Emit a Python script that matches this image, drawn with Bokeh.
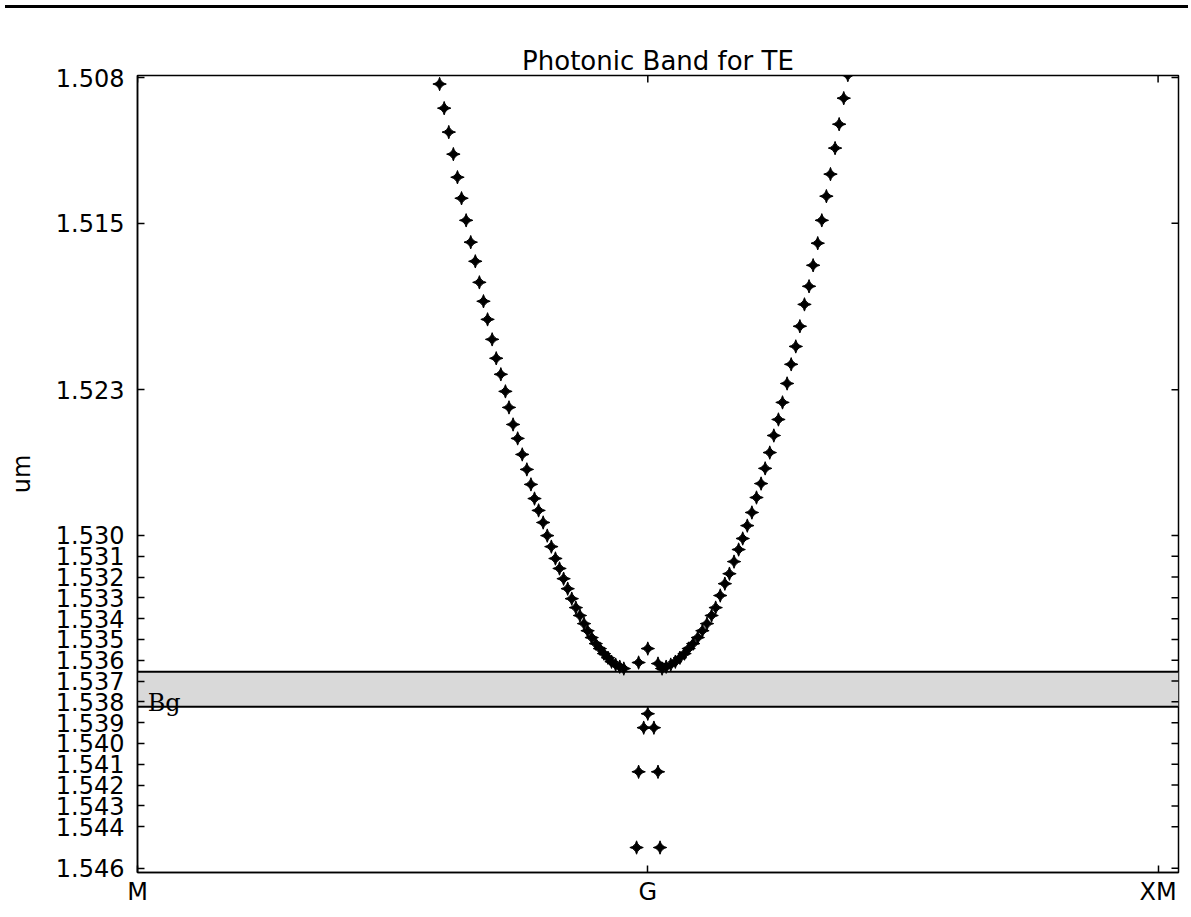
import numpy as np
from bokeh.plotting import figure
from bokeh.models import Range1d, FixedTicker, Span, BoxAnnotation, Label, Div, LinearAxis
from bokeh.layouts import column
from bokeh.embed import file_html
from bokeh.resources import INLINE

# ---- data ----
k_left = [0.592, 0.601, 0.610, 0.619, 0.627, 0.635, 0.644, 0.653, 0.662, 0.670,
          0.678, 0.686, 0.695, 0.703, 0.712, 0.721, 0.728, 0.736, 0.745, 0.754,
          0.763, 0.771, 0.778, 0.786, 0.795, 0.803, 0.811, 0.819, 0.827, 0.835,
          0.843, 0.851, 0.859, 0.867, 0.875, 0.882, 0.890, 0.898, 0.906, 0.914,
          0.922, 0.929, 0.937, 0.945, 0.953]
wl_left = [1.50831, 1.50947, 1.51062, 1.51168, 1.51279, 1.51380, 1.51486, 1.51591, 1.51683, 1.51784,
           1.51875, 1.51962, 1.52058, 1.52149, 1.52226, 1.52308, 1.52385, 1.52467, 1.52534, 1.52611,
           1.52683, 1.52755, 1.52823, 1.52880, 1.52938, 1.53001, 1.53054, 1.53111, 1.53159, 1.53208,
           1.53256, 1.53304, 1.53347, 1.53385, 1.53424, 1.53458, 1.53491, 1.53520, 1.53544, 1.53568,
           1.53588, 1.53607, 1.53621, 1.53631, 1.53640]

k_right = [1.392, 1.384, 1.375, 1.367, 1.358, 1.350, 1.341, 1.333, 1.324, 1.316,
           1.307, 1.298, 1.290, 1.281, 1.273, 1.264, 1.256, 1.247, 1.239, 1.230,
           1.222, 1.213, 1.204, 1.195, 1.186, 1.178, 1.169, 1.160, 1.151, 1.142,
           1.133, 1.125, 1.116, 1.107, 1.098, 1.089, 1.080, 1.072, 1.063, 1.054,
           1.045, 1.036, 1.028]
wl_right = [1.50788, 1.50899, 1.51024, 1.51139, 1.51264, 1.51370, 1.51486, 1.51596, 1.51702, 1.51803,
            1.51890, 1.51995, 1.52092, 1.52178, 1.52270, 1.52361, 1.52443, 1.52520, 1.52602, 1.52678,
            1.52751, 1.52818, 1.52890, 1.52953, 1.53015, 1.53068, 1.53126, 1.53184, 1.53232, 1.53289,
            1.53347, 1.53385, 1.53424, 1.53458, 1.53491, 1.53520, 1.53544, 1.53568, 1.53588, 1.53607,
            1.53621, 1.53631, 1.53640]

k_center = [1.000, 0.982, 1.020, 1.000, 0.992, 1.012, 0.982, 1.020, 0.978, 1.024]
wl_center = [1.53544, 1.53611, 1.53616, 1.53857, 1.53924, 1.53924, 1.54136, 1.54136, 1.54500, 1.54500]

gap_top = 1.53655
gap_bottom = 1.53823

y_ticks = [1.508, 1.515, 1.523, 1.530, 1.531, 1.532, 1.533, 1.534, 1.535, 1.536, 1.537,
           1.538, 1.539, 1.540, 1.541, 1.542, 1.543, 1.544, 1.546]
y_tick_labels = ["%.3f" % t for t in y_ticks]
x_ticks = [0, 1, 2]
x_tick_labels = ["M", "G", "XM"]
title_text = "Photonic Band for TE"

FONT = "DejaVu Sans"

x_range = Range1d(0, 2.04)
y_range = Range1d(1.5462, 1.5079)

p = figure(frame_width=1041, frame_height=797,
           x_range=x_range, y_range=y_range,
           output_backend="svg", toolbar_location=None,
           min_border_left=137, min_border_right=5, min_border_top=62, min_border_bottom=30,
           title=title_text)
p.title.align = "center"
p.title.text_font = FONT
p.title.text_font_size = "26px"
p.title.text_font_style = "normal"
p.title.text_color = "black"
p.title.standoff = 0
p.title.offset = -9

p.xgrid.visible = False
p.ygrid.visible = False
p.outline_line_color = "black"
p.outline_line_width = 1.5
p.background_fill_color = "white"
p.border_fill_color = "white"

# band gap
band = BoxAnnotation(top=gap_top, bottom=gap_bottom, fill_color="#d9d9d9", fill_alpha=1.0,
                     line_color=None, level="underlay")
p.add_layout(band)
for loc in (gap_top, gap_bottom):
    p.add_layout(Span(location=loc, dimension="width", line_color="black", line_width=2))
p.add_layout(Label(x=0.02, y=gap_bottom, text="Bg", text_font="DejaVu Serif",
                   text_color="black", text_font_size="24px", text_baseline="alphabetic",
                   y_offset=4))

# markers
for kx, wy in ((k_left, wl_left), (k_right, wl_right), (k_center, wl_center)):
    p.scatter(kx, wy, marker="square_pin", angle=np.pi / 4, size=9.5,
              fill_color="black", line_color="black", line_width=1)

# mirrored inward ticks on the right and top edges (clipped to the frame)
p.scatter([x_range.end] * len(y_ticks), y_ticks, marker="dash", size=14,
          line_color="black", line_width=1.5)
p.scatter(x_ticks, [y_range.end] * len(x_ticks), marker="dash", angle=np.pi / 2, size=14,
          line_color="black", line_width=1.5)

# axes
def style_axis(ax):
    ax.axis_line_color = "black"
    ax.axis_line_width = 1.5
    ax.major_tick_line_color = "black"
    ax.major_tick_line_width = 1.5
    ax.major_tick_in = 7
    ax.major_tick_out = 0
    ax.minor_tick_line_color = None
    ax.major_label_text_font = FONT
    ax.major_label_text_color = "black"
    ax.major_label_text_font_size = "24px"

yax = p.left[0]
yax.ticker = FixedTicker(ticks=y_ticks)
yax.major_label_overrides = dict(zip(y_ticks, y_tick_labels))
style_axis(yax)
yax.major_label_standoff = 13
yax.axis_label = "um"
yax.axis_label_text_font = FONT
yax.axis_label_text_color = "black"
yax.axis_label_text_font_size = "24px"
yax.axis_label_text_font_style = "normal"
yax.axis_label_standoff = 17

xax = p.below[0]
xax.ticker = FixedTicker(ticks=x_ticks)
xax.major_label_overrides = dict(zip(x_ticks, x_tick_labels))
style_axis(xax)
xax.major_label_standoff = 5

# empty spacer axis above the frame: no ticks, no labels, only reserves room under the title
spacer = LinearAxis(ticker=FixedTicker(ticks=[]), axis_line_color=None,
                    major_tick_in=0, major_tick_out=30, major_tick_line_color=None,
                    minor_tick_line_color=None, major_label_standoff=0)
p.add_layout(spacer, "above")

topline = Div(text="", width=1183, height=3, styles={"background-color": "black"})
layout = column(topline, p, spacing=0)

open("out.html", "w").write(file_html(layout, INLINE))
